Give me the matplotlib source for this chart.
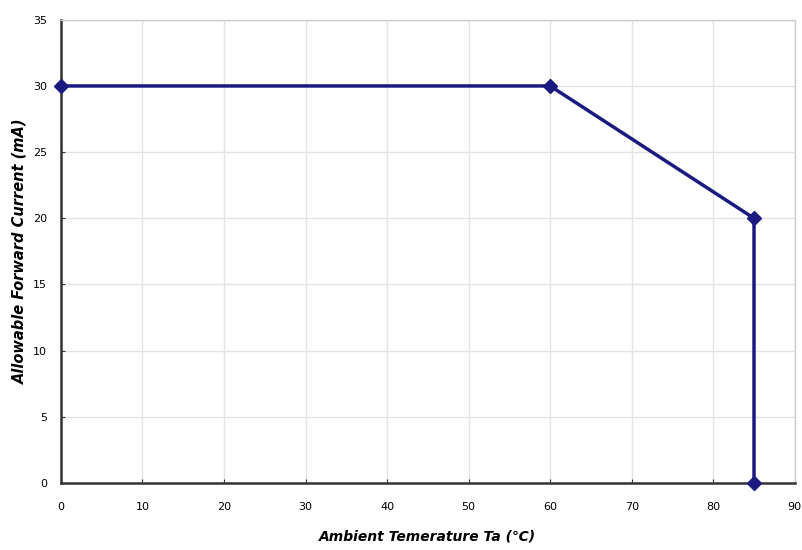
import matplotlib
matplotlib.use('Agg')
import matplotlib.pyplot as plt

# derating curve points
temp = [0, 60, 85, 85]
current = [30, 30, 20, 0]

x_ticks = [0, 10, 20, 30, 40, 50, 60, 70, 80, 90]
y_ticks = [0, 5, 10, 15, 20, 25, 30, 35]

fig = plt.figure(figsize=(8.02, 5.5), dpi=100)
ax = fig.add_axes([0.076, 0.122, 0.915, 0.842])

ax.plot(temp, current, color='#1a1a80', lw=2.5, marker='D', ms=7,
        clip_on=False, zorder=5)

ax.set_xlim(0, 90)
ax.set_ylim(0, 35)
ax.set_xticks(x_ticks)
ax.set_yticks(y_ticks)
ax.grid(True, color='#e4e4e4', lw=1)
ax.set_axisbelow(True)

for side in ['left', 'bottom']:
    ax.spines[side].set_color('#333333')
    ax.spines[side].set_linewidth(1.8)
for side in ['top', 'right']:
    ax.spines[side].set_color('#cccccc')
    ax.spines[side].set_linewidth(1)

ax.tick_params(axis='both', labelsize=8, length=3, direction='in',
               color='#333333', pad=14)
ax.tick_params(axis='y', pad=10)

ax.set_xlabel('Ambient Temerature Ta (\u2103)', fontsize=10, fontweight='bold',
              style='italic', labelpad=12)
ax.set_ylabel('Allowable Forward Current (mA)', fontsize=10.5, fontweight='bold',
              style='italic', labelpad=4)

fig.savefig('out.png', dpi=100)
